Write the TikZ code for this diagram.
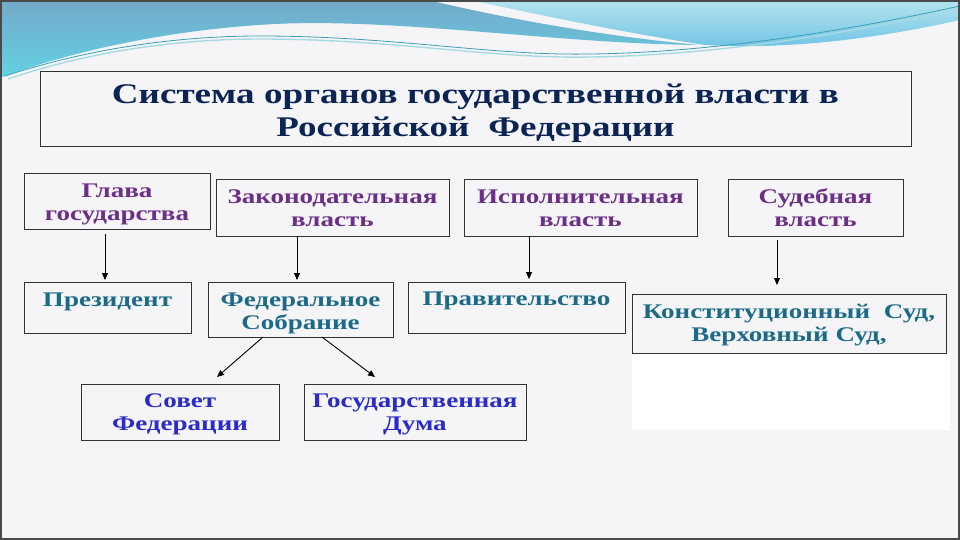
\documentclass[tikz,border=0pt]{standalone}
\usepackage{fontspec}
\setmainfont{Liberation Serif}[FakeStretch=1.3]
\usetikzlibrary{arrows.meta}
\definecolor{bgc}{HTML}{F5F5F7}
\definecolor{framec}{HTML}{4A4A4A}
\definecolor{boxline}{HTML}{333333}
\definecolor{titlec}{HTML}{0B2454}
\definecolor{purp}{HTML}{6B2F87}
\definecolor{tealc}{HTML}{1C6A87}
\definecolor{bluec}{HTML}{2B2BC8}
\definecolor{wLa}{HTML}{74A9C9}
\definecolor{wLb}{HTML}{62D2E4}
\definecolor{wRa}{HTML}{B4E4EE}
\definecolor{wRb}{HTML}{6EC2E4}
\definecolor{lineA}{HTML}{3A9FB5}
\definecolor{lineB}{HTML}{A6DAE2}
\begin{document}
\begin{tikzpicture}[x=1pt,y=-1pt,
  bx/.style={draw=boxline, line width=1pt, inner sep=0pt, outer sep=0pt,
    anchor=north west, align=center,
    font=\bfseries\fontsize{20.8}{23.5}\selectfont},
  arr/.style={draw=black, line width=0.9pt, -{Triangle[length=7pt,width=6pt]}}]
\useasboundingbox (0,0) rectangle (960,540);
\fill[bgc] (0,0) rectangle (960,540);
% decorative waves
\shade[top color=wLa, bottom color=wLb] (0,0) -- (428,0)
  .. controls (520,22) and (620,38) .. (700,45)
  .. controls (560,44) and (400,18) .. (275,24)
  .. controls (160,30) and (60,55) .. (0,78) -- cycle;
\shade[top color=wRa, bottom color=wRb] (470,0) -- (960,0) -- (960,20)
  .. controls (880,38) and (790,50) .. (705,45)
  .. controls (620,32) and (540,15) .. (470,0) -- cycle;
\draw[lineB, line width=1.4pt] (8,79) .. controls (100,48) and (190,39) .. (260,39)
  .. controls (380,39) and (470,55) .. (560,57) .. controls (700,59) and (850,33) .. (960,9);
\draw[lineA, line width=0.8pt] (5,76) .. controls (100,45) and (190,36) .. (260,36)
  .. controls (380,36) and (470,52) .. (560,54) .. controls (700,56) and (850,30) .. (960,6);
\fill[white] (632,353) rectangle (950,430);
% boxes
\node[bx, text width=871pt, text height=32pt, text depth=43pt, text=titlec,
  font=\bfseries\fontsize{28.5}{33}\selectfont] (title) at (40,72)
  {Система органов государственной власти в\\Российской\ \ Федерации};
\node[bx, text width=186pt, text height=23pt, text depth=32pt, text=purp] (glava) at (24,174) {Глава\\государства};
\node[bx, text width=233pt, text height=23pt, text depth=33pt, text=purp] (zak) at (216,180) {Законодательная\\власть};
\node[bx, text width=233pt, text height=23pt, text depth=33pt, text=purp] (isp) at (464,180) {Исполнительная\\власть};
\node[bx, text width=175pt, text height=23pt, text depth=33pt, text=purp] (sud) at (728,180) {Судебная\\власть};
\node[bx, text width=167pt, text height=24pt, text depth=27pt, text=tealc] (prez) at (24,282) {Президент};
\node[bx, text width=185pt, text height=24pt, text depth=31pt, text=tealc] (fed) at (208,282) {Федеральное\\Собрание};
\node[bx, text width=217pt, text height=23pt, text depth=28pt, text=tealc] (prav) at (408,282) {Правительство};
\node[bx, text width=314pt, text height=24pt, text depth=35pt, text=tealc] (konst) at (632,294) {Конституционный\ \ Суд,\\Верховный Суд,};
\node[bx, text width=198pt, text height=23pt, text depth=33pt, text=bluec] (sovet) at (81,384) {Совет\\Федерации};
\node[bx, text width=222pt, text height=23pt, text depth=33pt, text=bluec] (duma) at (304,384) {Государственная\\Дума};
% connectors
\draw[arr] ([xshift=-12pt,yshift=-5pt]glava.south) -- ([xshift=-2.5pt,yshift=2pt]prez.north);
\draw[arr] ([xshift=-35.5pt]zak.south) -- ([xshift=-3.5pt,yshift=2pt]fed.north);
\draw[arr] ([xshift=-51.5pt]isp.south) -- ([xshift=12.5pt,yshift=3pt]prav.north);
\draw[arr] ([xshift=-38.5pt,yshift=-4pt]sud.south) -- ([xshift=-12pt,yshift=9pt]konst.north);
\draw[arr] ([xshift=-37.5pt]fed.south) -- ([xshift=37pt,yshift=7pt]sovet.north);
\draw[arr] ([xshift=21.5pt]fed.south) -- ([xshift=-40pt,yshift=7pt]duma.north);
% slide frame
\draw[framec, line width=2pt] (1,1) rectangle (959,539);
\end{tikzpicture}
\end{document}
